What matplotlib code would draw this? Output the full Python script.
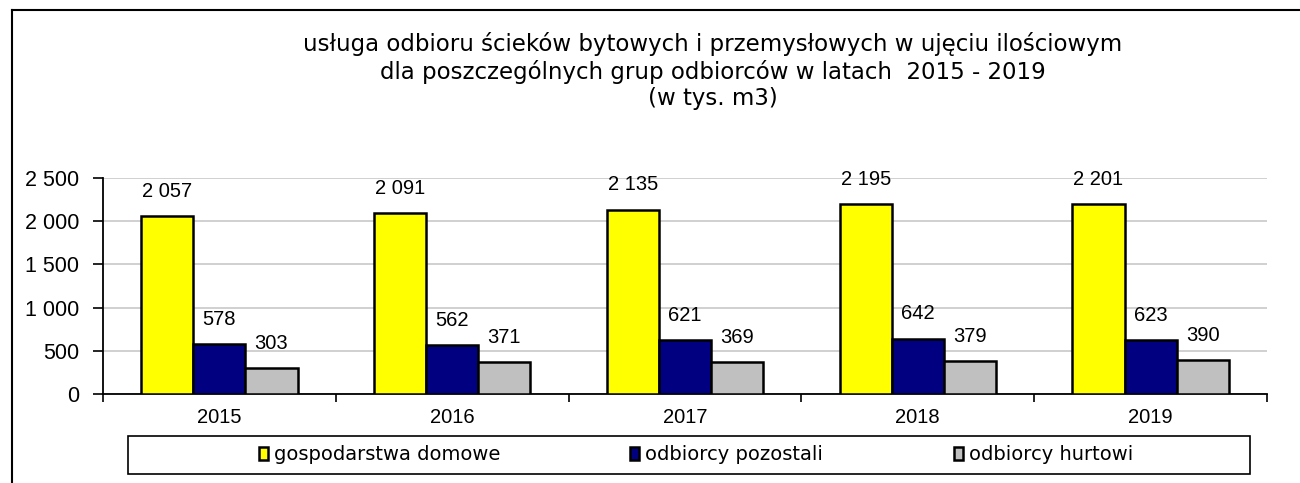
import matplotlib.pyplot as plt
import matplotlib.ticker as mticker
from matplotlib.lines import Line2D
from matplotlib.patches import Rectangle
import numpy as np

years = ['2015', '2016', '2017', '2018', '2019']
domowe = [2057, 2091, 2135, 2195, 2201]
pozostali = [578, 562, 621, 642, 623]
hurtowi = [303, 371, 369, 379, 390]

series = [
    ('gospodarstwa domowe', domowe, '#ffff00'),
    ('odbiorcy pozostali', pozostali, '#000080'),
    ('odbiorcy hurtowi', hurtowi, '#c0c0c0'),
]

title = ('usługa odbioru ścieków bytowych i przemysłowych w ujęciu ilościowym\n'
         'dla poszczególnych grup odbiorców w latach  2015 - 2019\n'
         '(w tys. m3)')

plt.rcParams['font.family'] = ['Liberation Sans', 'DejaVu Sans']


def space_fmt(v):
    return f'{int(round(v)):,}'.replace(',', ' ')


fig = plt.figure(figsize=(13, 4.83), dpi=100)
ax = fig.add_axes([0.0792, 0.1843, 0.8954, 0.4472])

x = np.arange(len(years))
w = 0.224
handles = []
for i, (name, vals, col) in enumerate(series):
    bars = ax.bar(x + (i - 1) * w, vals, w, color=col, edgecolor='black',
                  linewidth=1.8, label=name, zorder=3)
    ax.bar_label(bars, labels=[space_fmt(v) for v in vals], padding=11,
                 fontsize=14.5, color='black')
    handles.append(bars)

ax.set_xlim(-0.5, len(years) - 0.5)
ax.set_ylim(0, 2500)
ax.yaxis.set_major_locator(mticker.MultipleLocator(500))
ax.yaxis.set_major_formatter(mticker.FuncFormatter(lambda v, p: space_fmt(v)))
ax.grid(axis='y', color='#c8c8c8', linewidth=1.2, zorder=0)
ax.set_axisbelow(True)

ax.set_xticks(x)
ax.set_xticklabels(years)
ax.set_xticks(np.arange(len(years) + 1) - 0.5, minor=True)
ax.tick_params(axis='x', which='major', length=0, pad=10, labelsize=14.5)
ax.tick_params(axis='x', which='minor', length=6, width=1.2, direction='out')
ax.tick_params(axis='y', length=7, width=1.2, labelsize=15.5, pad=10)

for s in ['top', 'right']:
    ax.spines[s].set_visible(False)
ax.spines['left'].set_linewidth(1.3)
ax.spines['bottom'].set_linewidth(1.3)

fig.text(0.548, 1 - 32 / 483, title, ha='center', va='top', fontsize=16.5,
         family=['DejaVu Sans'], linespacing=1.2)

# legend frame
fig.patches.append(Rectangle((128 / 1300, 1 - 474 / 483), 1122 / 1300, 38 / 483,
                             transform=fig.transFigure, facecolor='white',
                             edgecolor='black', linewidth=1.2))
leg_x = [241 / 1300, 612 / 1300, 936 / 1300]
for h, (name, _, _), lx in zip(handles, series, leg_x):
    fig.legend(handles=[h], labels=[name], loc='center left',
               bbox_to_anchor=(lx, 1 - 455 / 483), frameon=False,
               handlelength=0.5, handleheight=0.6, handletextpad=0.3,
               prop={'family': ['DejaVu Sans'], 'size': 14})

# outer border lines
fig.add_artist(Line2D([12 / 1300, 1], [1 - 10 / 483, 1 - 10 / 483],
                      transform=fig.transFigure, color='black', linewidth=1.5))
fig.add_artist(Line2D([12 / 1300, 12 / 1300], [0, 1 - 10 / 483],
                      transform=fig.transFigure, color='black', linewidth=1.5))

fig.savefig('out.png', dpi=100)
